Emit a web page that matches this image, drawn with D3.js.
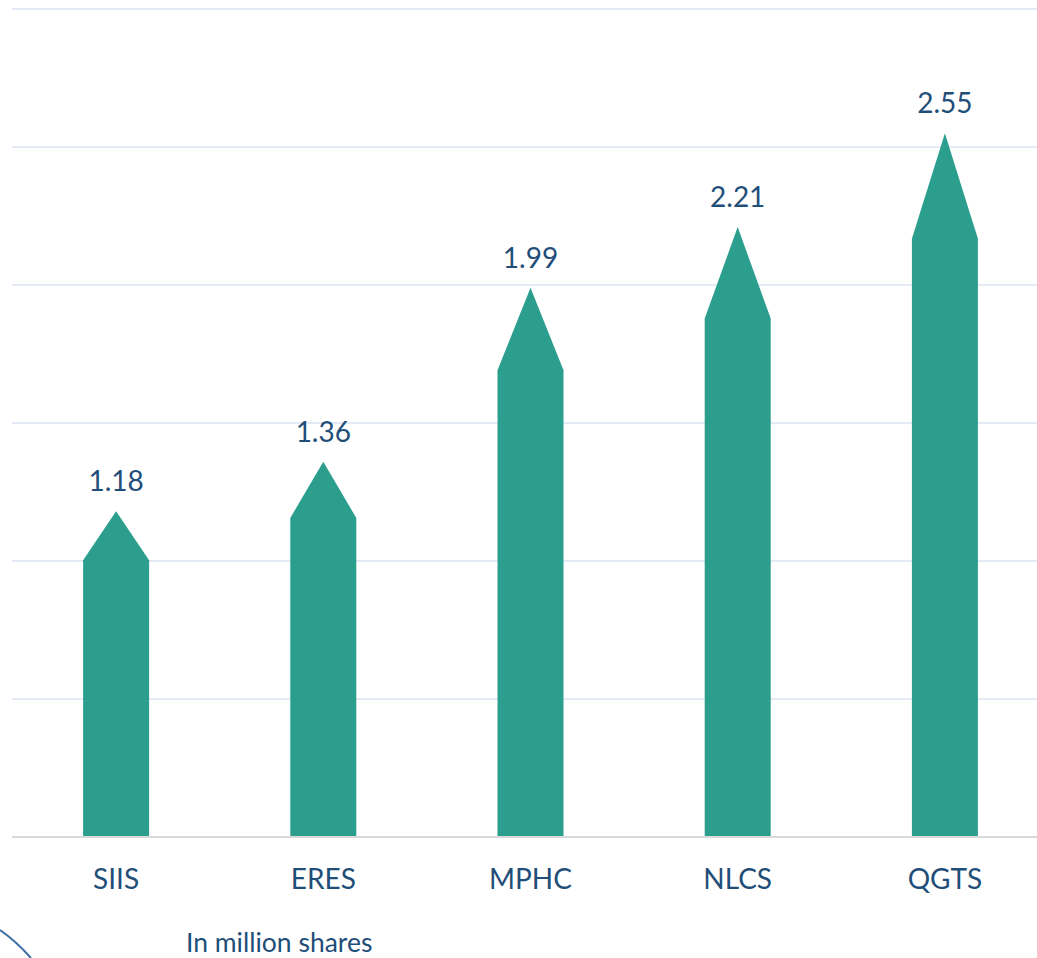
<!DOCTYPE html>
<html><head><meta charset="utf-8">
<script src="https://cdn.jsdelivr.net/npm/d3@7"></script>
<style>html,body{margin:0;padding:0;background:#fff;}svg{display:block;}</style>
</head><body>
<svg id="chart" width="1037" height="958"></svg>
<script>
const categories = ["SIIS", "ERES", "MPHC", "NLCS", "QGTS"];
const values = [1.18, 1.36, 1.99, 2.21, 2.55];
const gridTicks = [0.5, 1.0, 1.5, 2.0, 2.5, 3.0];
const unitLabel = "In million shares";

const svg = d3.select("#chart");
const x = d3.scaleBand().domain(categories).range([12.5, 1048.5]).paddingInner(0.68).paddingOuter(0.34);
const y = d3.scaleLinear().domain([0, 3]).range([837, 9]);

svg.append("g").selectAll("line").data(gridTicks).join("line")
  .attr("x1", 12).attr("x2", 1037)
  .attr("y1", d => y(d)).attr("y2", d => y(d))
  .attr("stroke", "#e3ecf6").attr("stroke-width", 2);

svg.append("line").attr("x1", 12).attr("x2", 1037).attr("y1", y(0)).attr("y2", y(0))
  .attr("stroke", "#d9d9d9").attr("stroke-width", 2);

const bw = 66;
svg.append("g").selectAll("path").data(categories).join("path")
  .attr("fill", "#2b9e8e")
  .attr("d", (c, i) => {
    const cx = x(c) + x.bandwidth() / 2;
    const v = values[i];
    const x0 = cx - bw / 2, x1 = cx + bw / 2;
    const ys = y(v * 0.85), yt = y(v), yb = y(0) - 1;
    return `M${x0},${yb}L${x0},${ys}L${cx},${yt}L${x1},${ys}L${x1},${yb}Z`;
  });

svg.append("g").selectAll("text").data(categories).join("text")
  .attr("x", c => x(c) + x.bandwidth() / 2)
  .attr("y", (c, i) => y(values[i]) - 20)
  .attr("text-anchor", "middle")
  .attr("font-family", "Lato, 'Open Sans', sans-serif")
  .attr("font-size", 28).attr("fill", "#1f4e79")
  .text((c, i) => values[i].toFixed(2));

svg.append("g").selectAll("text").data(categories).join("text")
  .attr("x", c => x(c) + x.bandwidth() / 2)
  .attr("y", 889)
  .attr("text-anchor", "middle")
  .attr("font-family", "Lato, 'Open Sans', sans-serif")
  .attr("font-size", 28).attr("fill", "#1f4e79")
  .text(c => c);

svg.append("text").attr("x", 186).attr("y", 952)
  .attr("font-family", "Lato, sans-serif").attr("font-size", 26.5).attr("fill", "#1f4e79")
  .text(unitLabel);

svg.append("path").attr("d", "M0,930 Q16,941 31,958")
  .attr("fill", "none").attr("stroke", "#3a6ea5").attr("stroke-width", 2);
</script>
</body></html>
